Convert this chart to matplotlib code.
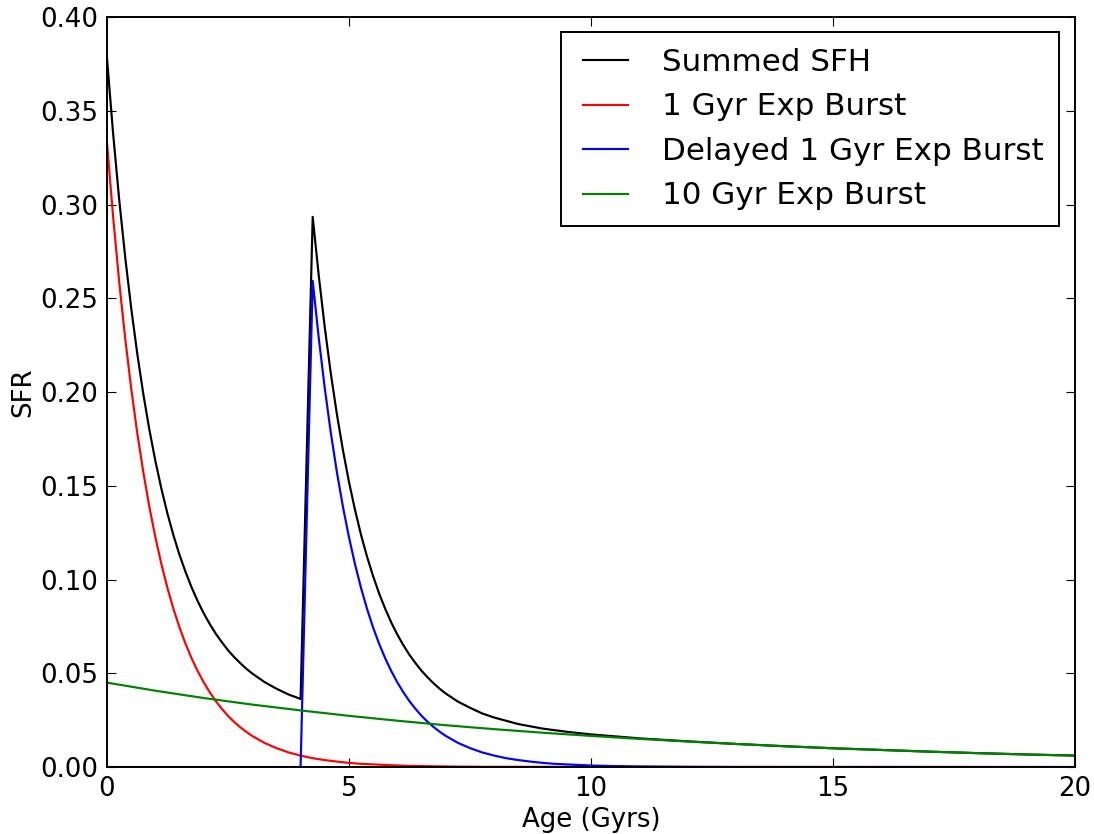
import matplotlib
matplotlib.use("Agg")
import matplotlib.pyplot as plt
from matplotlib.legend_handler import HandlerLine2D

# ages (Gyr) and SFR values
red_x = [0, 0.125, 0.25, 0.375, 0.5, 0.625, 0.75, 0.875, 1.0, 1.125, 1.25, 1.375,
         1.5, 1.625, 1.75, 1.875, 2.0, 2.125, 2.25, 2.375, 2.5, 2.625, 2.75, 2.875,
         3.0, 3.25, 3.5, 3.75, 4.0, 4.25, 4.5, 4.75, 5.0, 5.25, 5.5, 5.75, 6.0,
         6.25, 6.5, 6.75, 7.0, 7.25, 7.5, 7.75, 8.0, 20]
red_y = [0.3330, 0.2939, 0.2593, 0.2289, 0.2020, 0.1782, 0.1573, 0.1388, 0.1225,
         0.1081, 0.0954, 0.0842, 0.0743, 0.0656, 0.0579, 0.0511, 0.0451, 0.0398,
         0.0351, 0.0310, 0.0273, 0.0241, 0.0213, 0.0188, 0.0166, 0.0129, 0.0101,
         0.0078, 0.0061, 0.0047, 0.0037, 0.0029, 0.0022, 0.0017, 0.0014, 0.0011,
         0.0008, 0.0006, 0.0005, 0.0004, 0.0003, 0.0002, 0.0002, 0.0001, 0.0001, 0.0]

blue_x = [0, 4.0, 4.25, 4.375, 4.5, 4.625, 4.75, 4.875, 5.0, 5.125, 5.25, 5.375,
          5.5, 5.625, 5.75, 5.875, 6.0, 6.125, 6.25, 6.375, 6.5, 6.625, 6.75, 6.875,
          7.0, 7.25, 7.5, 7.75, 8.0, 8.25, 8.5, 8.75, 9.0, 9.25, 9.5, 9.75, 10.0,
          10.5, 11.0, 11.5, 12.0, 13.0, 20]
blue_y = [0.0, 0.0, 0.2593, 0.2289, 0.2020, 0.1782, 0.1573, 0.1388, 0.1225, 0.1081,
          0.0954, 0.0842, 0.0743, 0.0656, 0.0579, 0.0511, 0.0451, 0.0398, 0.0351,
          0.0310, 0.0273, 0.0241, 0.0213, 0.0188, 0.0166, 0.0129, 0.0101, 0.0078,
          0.0061, 0.0047, 0.0037, 0.0029, 0.0022, 0.0017, 0.0014, 0.0011, 0.0008,
          0.0005, 0.0003, 0.0002, 0.0001, 0.0, 0.0]

green_x = [0, 1, 2, 3, 4, 5, 6, 7, 8, 9, 10, 11, 12, 13, 14, 15, 16, 17, 18, 19, 20]
green_y = [0.0450, 0.0407, 0.0368, 0.0333, 0.0302, 0.0273, 0.0247, 0.0223, 0.0202,
           0.0183, 0.0166, 0.0150, 0.0136, 0.0123, 0.0111, 0.0100, 0.0091, 0.0082,
           0.0074, 0.0067, 0.0061]

sum_x = [0, 0.125, 0.25, 0.375, 0.5, 0.625, 0.75, 0.875, 1.0, 1.125, 1.25, 1.375,
         1.5, 1.625, 1.75, 1.875, 2.0, 2.125, 2.25, 2.375, 2.5, 2.625, 2.75, 2.875,
         3.0, 3.25, 3.5, 3.75, 4.0,
         4.25, 4.375, 4.5, 4.625, 4.75, 4.875, 5.0, 5.125, 5.25, 5.375, 5.5, 5.625,
         5.75, 5.875, 6.0, 6.125, 6.25, 6.375, 6.5, 6.625, 6.75, 6.875, 7.0,
         7.25, 7.5, 7.75, 8.0, 8.5, 9.0, 9.5, 10, 11, 12, 13, 14, 15, 16, 17, 18,
         19, 20]
sum_y = [0.3780, 0.3383, 0.3032, 0.2722, 0.2448, 0.2205, 0.1990, 0.1800, 0.1632,
         0.1483, 0.1351, 0.1234, 0.1130, 0.1039, 0.0957, 0.0884, 0.0819, 0.0762,
         0.0710, 0.0665, 0.0623, 0.0587, 0.0555, 0.0525, 0.0499,
         0.0454, 0.0418, 0.0387, 0.0363,
         0.2934, 0.2622, 0.2344, 0.2098, 0.1882, 0.1690, 0.1520, 0.1371, 0.1237,
         0.1120, 0.1017, 0.0924, 0.0843, 0.0770, 0.0706, 0.0649, 0.0598, 0.0554,
         0.0513, 0.0478, 0.0446, 0.0417, 0.0392,
         0.0349, 0.0316, 0.0286, 0.0264, 0.0229, 0.0205, 0.0188, 0.0174, 0.0153,
         0.0137, 0.0123, 0.0111, 0.0100, 0.0091, 0.0082, 0.0074, 0.0067, 0.0061]

fs = 18.7
fig = plt.figure(figsize=(10.94, 8.34), dpi=100)
ax = fig.add_axes([0.0978, 0.0803, 0.8848, 0.8993])

lw = 1.56
ax.plot(sum_x, sum_y, color='k', lw=lw, label='Summed SFH')
ax.plot(red_x, red_y, color='r', lw=lw, label='1 Gyr Exp Burst')
ax.plot(blue_x, blue_y, color='b', lw=lw, label='Delayed 1 Gyr Exp Burst')
ax.plot(green_x, green_y, color='g', lw=lw, label='10 Gyr Exp Burst')

ax.set_xlim(0, 20)
ax.set_ylim(0, 0.40)
ax.set_xticks([0, 5, 10, 15, 20])
ax.set_yticks([0.0, 0.05, 0.10, 0.15, 0.20, 0.25, 0.30, 0.35, 0.40])
ax.set_yticklabels(['0.00', '0.05', '0.10', '0.15', '0.20', '0.25', '0.30', '0.35', '0.40'])
ax.tick_params(direction='in', top=True, right=True, length=6.2, width=0.8,
               labelsize=fs, pad=6.2)
for s in ax.spines.values():
    s.set_linewidth(1.4)

ax.set_xlabel('Age (Gyrs)', fontsize=fs, labelpad=4)
ax.set_ylabel('SFR', fontsize=fs, labelpad=3)

leg = ax.legend(loc='upper right', fontsize=22.3, fancybox=False, framealpha=1,
                edgecolor='k', handlelength=1.64, borderaxespad=0.5,
                labelspacing=0.5, handletextpad=1.12, borderpad=0.5,
                handler_map={l: HandlerLine2D(xpad=0.2) for l in ax.get_lines()})
leg.get_frame().set_linewidth(1.4)

fig.savefig('out.png', dpi=100)
